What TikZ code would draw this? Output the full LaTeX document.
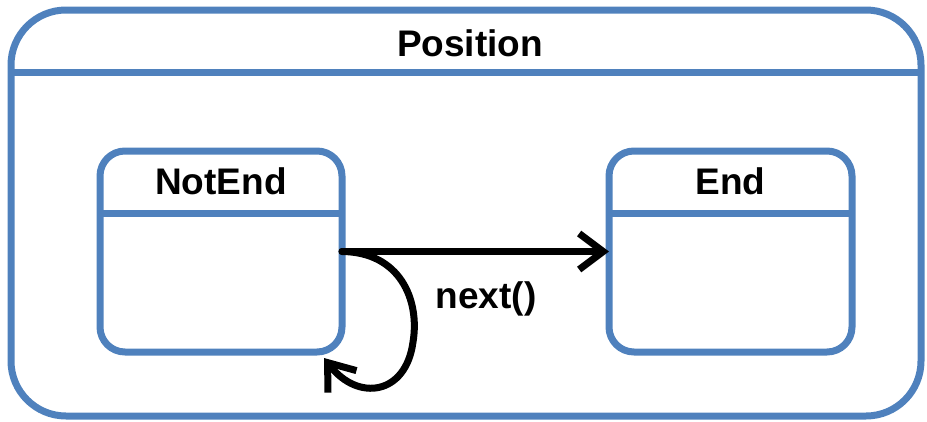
\documentclass[tikz,border=0pt]{standalone}
\usepackage{fontspec}
\setmainfont{Liberation Sans}
\usetikzlibrary{arrows.meta}
\definecolor{stateblue}{HTML}{4F81BD}
\tikzset{
  statebox/.style={draw=stateblue, line width=7pt, rounded corners=25pt, inner sep=0pt, outer sep=0pt},
  outerbox/.style={statebox, rounded corners=55pt},
  headline/.style={draw=stateblue, line width=7pt},
  title/.style={font=\fontsize{37}{40}\selectfont\bfseries},
  flow/.style={line width=7pt, line cap=round, line join=round, -{Straight Barb[length=24pt, width=36pt]}}
}
\begin{document}
\begin{tikzpicture}[x=1pt, y=-1pt]
  \useasboundingbox (0,0) rectangle (927,421);
  \node[outerbox, minimum width=910pt, minimum height=406pt] (position) at (466,213) {};
  \draw[headline] (position.west |- 0,72) -- (position.east |- 0,72);
  \node[title] (positiontitle) at (470,43) {Position};

  \node[statebox, minimum width=242pt, minimum height=201pt] (notend) at (221,251.5) {};
  \draw[headline] (notend.west |- 0,213) -- (notend.east |- 0,213);
  \node[title] (notendtitle) at (221,181) {NotEnd};

  \node[statebox, minimum width=243pt, minimum height=201pt] (end) at (730.5,251.5) {};
  \draw[headline] (end.west |- 0,213) -- (end.east |- 0,213);
  \node[title] (endtitle) at (730.5,181) {End};

  \coordinate (loopend) at (324,358);
  \draw[flow] (notend.east) .. controls (400,252) and (420,300) .. (413,342)
    .. controls (406,395) and (358,402) .. (loopend);
  \draw[flow] (notend.east) -- (end.west);
  \node[title] (next) at (486,299) {next()};
\end{tikzpicture}
\end{document}
